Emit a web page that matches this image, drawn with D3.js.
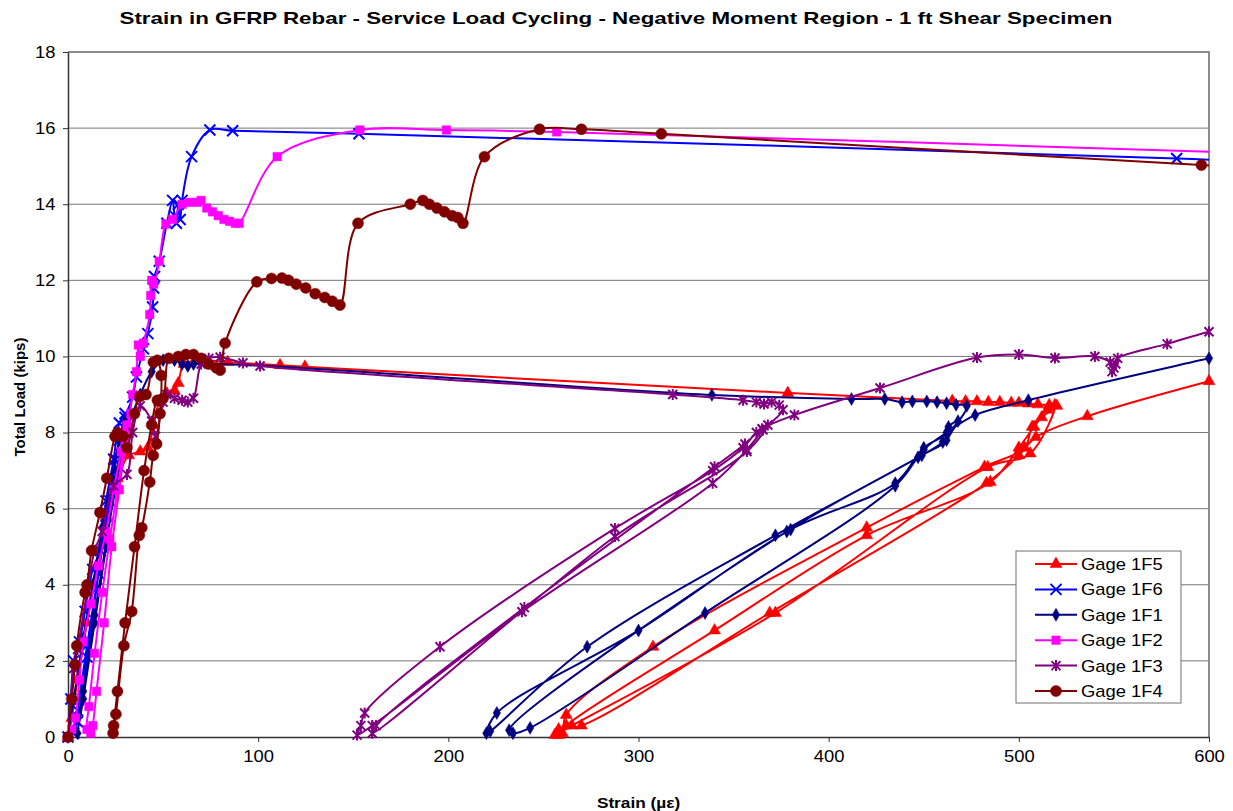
<!DOCTYPE html>
<html>
<head>
<meta charset="utf-8">
<script src="https://cdn.jsdelivr.net/npm/d3@7"></script>
<style>
  body { margin: 0; background: #fff; }
  text { font-family: Arial, 'Liberation Sans', sans-serif; fill: #000; }
</style>
</head>
<body>
<div id="chart"></div>
<script>
// [strain (microstrain), total load (kips)] in the order they were recorded
var gage1F5 = [
  [0, 0], [2, 0.5], [5, 1.5], [10, 3.0], [15, 4.5], [20, 5.8], [26, 6.8], [32, 7.4], [38, 7.5], [42, 7.6],
  [45, 8.2], [48, 8.8], [52, 9.03], [56, 9.1], [58, 9.3], [61, 9.8], [70, 9.9], [84, 9.85], [111.5, 9.77],
  [124.6, 9.73], [378.5, 9.04], [465, 8.83], [472, 8.82], [478, 8.82], [484, 8.8], [490, 8.8], [496, 8.78],
  [500, 8.78], [505, 8.76], [510, 8.74], [516, 8.72], [520, 8.7],
  [512, 8.4], [508, 8.15], [500, 7.6], [485, 6.7], [420, 5.3], [340, 2.8], [262, 0.3], [258, 0.05],
  [260, 0.1], [262, 0.58], [307.6, 2.37], [420, 5.5], [482, 7.1], [503, 7.6], [507, 8.15], [515, 8.6], [519, 8.72],
  [506, 7.45], [483.7, 7.09], [372, 3.26], [265, 0.3], [256, 0.05],
  [258, 0.2], [270, 0.3], [369, 3.26], [483, 6.67], [500, 7.4], [509, 7.88], [536, 8.43], [600, 9.35], [640, 9.85]
]

var gage1F6 = [
  [0, 0], [1.5, 1.0], [3, 2.0], [6, 2.5], [9, 3.3], [13, 4.4], [17, 4.9], [20, 6.2], [24, 7.3], [27, 8.25],
  [30, 8.5], [27, 7.8], [22, 6.2], [16, 4.3], [10, 2.4], [5, 0.7], [3, 0.1], [5, 0.4], [10, 2.1], [15, 3.9],
  [20, 5.8], [25, 7.3], [30, 8.4], [34, 8.93], [36, 9.46], [39.7, 10.2], [42, 10.6], [44.5, 11.3], [45, 11.8],
  [45.5, 12.1], [48, 12.5], [52, 13.5], [55, 14.1], [56, 13.7], [57, 13.5], [58, 14.0], [59, 13.6], [60, 14.1],
  [65, 15.25], [74.6, 15.95], [86.6, 15.93], [153, 15.85], [583, 15.2], [650, 15.05]
]

var gage1F1 = [
  [0, 0], [3, 1.0], [8, 2.6], [13, 4.0], [18, 5.5], [23, 6.8], [27, 7.8], [30, 8.3], [26, 7.0], [20, 5.0],
  [14, 3.0], [8, 1.0], [5, 0.1], [8, 1.2], [14, 3.2], [20, 5.1], [26, 6.8], [32, 8.2], [38, 9.0], [44, 9.6],
  [50, 9.9], [56, 9.9], [60, 9.8], [63, 9.75], [66, 9.8], [338.6, 8.99], [412, 8.88], [429.5, 8.88],
  [438.6, 8.8], [444, 8.82], [451.6, 8.82], [457, 8.8], [462, 8.77], [467, 8.73], [472.6, 8.7],
  [463, 8.0], [450, 7.6], [435, 6.67], [380, 5.45], [300, 2.8], [225.5, 0.63], [220, 0.1],
  [222, 0.15], [273, 2.37], [372, 5.3], [449, 7.4], [462, 7.8], [463, 8.15], [468, 8.3],
  [460, 7.75], [447, 7.35], [378, 5.4], [232, 0.18],
  [234, 0.1], [243, 0.24], [335, 3.26], [435, 6.6], [450, 7.55], [462, 8.0], [477, 8.46], [505, 8.85],
  [600, 9.95], [640, 10.4]
]

var gage1F2 = [
  [0, 0], [2, 0.2], [4, 0.5], [6, 1.5], [8, 2.5], [12, 3.5], [16, 4.5], [20, 5.4], [24, 6.5], [28, 7.5],
  [31, 8.2], [33, 8.5], [30, 7.8], [26, 6.5], [22, 5.2], [18, 3.8], [14, 2.2], [11, 0.8], [10, 0.2], [12, 0.1],
  [13, 0.3], [15, 1.2], [19, 3.0], [23, 5.0], [27, 6.5], [31, 8.0], [34, 9.0], [36, 9.6], [37, 10.3], [38, 10.0],
  [39.7, 10.35], [43, 11.1], [43.5, 11.6], [44, 12.0], [45, 11.9], [48, 12.5], [51.5, 13.48], [55, 13.6],
  [60, 14.0], [64, 14.05], [68, 14.05], [70, 14.1], [73, 13.9], [76, 13.8], [79, 13.7], [82, 13.6],
  [85, 13.55], [88, 13.5], [90, 13.5], [110, 15.25], [153.5, 15.95], [199, 15.95], [257, 15.9], [650, 15.3]
]

var gage1F3 = [
  [0, 0], [3, 1.8], [5, 2.3], [10, 3.8], [14, 4.9], [18, 5.4], [24, 6.6], [31, 6.9], [34, 8.0], [38, 8.7],
  [44, 8.3], [46, 7.9], [50, 8.8], [52, 9.0], [56, 8.9], [60, 8.85], [63, 8.8], [66, 8.9], [70, 9.8],
  [74, 9.95], [80, 9.98], [92, 9.83], [101, 9.75], [318, 9.0], [355, 8.85], [362, 8.8], [366, 8.75],
  [370, 8.8], [374, 8.72], [376, 8.6],
  [365.5, 8.07], [357, 7.55], [339, 6.67], [238.7, 3.29], [160, 0.3], [152, 0.05],
  [154, 0.3], [156, 0.63], [195.6, 2.37], [287.6, 5.48], [339, 7.0], [355, 7.6], [362, 8.0], [368, 8.2],
  [357, 7.5], [287.6, 5.27], [160, 0.1],
  [162, 0.3], [240, 3.4], [340, 7.1], [356, 7.7], [365, 8.1], [382, 8.46], [427, 9.17], [478, 9.97],
  [500, 10.05], [519, 9.96], [540, 10.0], [548, 9.85], [550, 9.7], [549, 9.6], [551, 9.8], [552, 9.95],
  [578, 10.33], [600, 10.65], [640, 11.1]
]

var gage1F4 = [
  [0, 0], [2, 1.0], [3.7, 1.9], [4.6, 2.4], [9, 3.8], [10, 4.0], [12.4, 4.9], [16.8, 5.9], [20.4, 6.8],
  [24.7, 7.9], [26, 8.0], [29, 7.9], [31, 7.6], [35, 8.5], [37.8, 8.95], [41, 9.0], [44.9, 9.85], [47, 9.9],
  [49, 9.5], [48.4, 8.5], [46.6, 7.7], [44.8, 7.4], [43, 6.7], [38.8, 5.5], [37.5, 5.3], [33.5, 3.3],
  [29.4, 2.4], [25.2, 0.6], [23.7, 0.1], [24, 0.3], [26, 1.2], [30, 3.0], [35, 5.0], [40, 7.0], [44, 8.2],
  [47, 8.85], [50, 8.9], [53, 9.95], [58, 10.0], [62, 10.05], [66, 10.05], [70, 9.95], [74, 9.8], [78, 9.7],
  [80, 9.64], [82.6, 10.35], [99.3, 11.96], [107, 12.05], [112.5, 12.06], [116, 12.0], [120, 11.9],
  [125, 11.8], [130, 11.65], [135, 11.55], [139, 11.45], [143, 11.35], [152.5, 13.5], [180, 14.0],
  [186.6, 14.1], [190, 14.0], [194, 13.9], [198, 13.8], [202, 13.7], [205, 13.65], [207.7, 13.5],
  [219, 15.25], [248, 15.97], [270, 15.97], [312, 15.85], [596, 15.03], [650, 14.9]
]

var seriesNames = ['Gage 1F5', 'Gage 1F6', 'Gage 1F1', 'Gage 1F2', 'Gage 1F3', 'Gage 1F4']
var seriesColors = ['#ff0000', '#0000ff', '#000080', '#ff00ff', '#800080', '#800000']
var seriesMarkers = ['triangle', 'cross', 'diamond', 'square', 'star', 'circle']
var seriesValues = [gage1F5, gage1F6, gage1F1, gage1F2, gage1F3, gage1F4]

var xTicks = [0, 100, 200, 300, 400, 500, 600]
var yTicks = [0, 2, 4, 6, 8, 10, 12, 14, 16, 18]

var chartTitle = 'Strain in GFRP Rebar - Service Load Cycling - Negative Moment Region - 1 ft Shear Specimen'

var series = seriesNames.map((name, i) => ({
  name: name,
  color: seriesColors[i],
  marker: seriesMarkers[i],
  values: seriesValues[i]
}))

var margin = { top: 52, left: 68, right: 24, bottom: 74 }
var width = 1233 - margin.left - margin.right
var height = 811 - margin.top - margin.bottom
var stretch = 1.15

var svg = d3
  .select('#chart')
  .append('svg')
  .attr('width', 1233)
  .attr('height', 811)

var plot = svg
  .append('g')
  .attr('transform', `translate(${margin.left},${margin.top})`)

let xPositionScale = d3
  .scaleLinear()
  .domain([0, 600])
  .range([0, width])

let yPositionScale = d3
  .scaleLinear()
  .domain([0, 18])
  .range([height, 0])

plot
  .append('clipPath')
  .attr('id', 'plot-clip')
  .append('rect')
  .attr('width', width)
  .attr('height', height)

/* Gridlines */
plot
  .selectAll('.grid')
  .data(yTicks.filter(d => d > 0 && d < 18))
  .enter()
  .append('line')
  .attr('class', 'grid')
  .attr('x1', 0)
  .attr('x2', width)
  .attr('y1', d => yPositionScale(d))
  .attr('y2', d => yPositionScale(d))
  .attr('stroke', '#767676')
  .attr('stroke-width', 1)

// plot area frame (top and right are grey in Excel)
plot
  .append('path')
  .attr('d', `M0,0H${width}V${height}`)
  .attr('fill', 'none')
  .attr('stroke', '#8c8c8c')
  .attr('stroke-width', 2)

/* Axes */
var xAxis = d3
  .axisBottom(xPositionScale)
  .tickValues(xTicks)
  .tickSize(5)
  .tickSizeOuter(0)
  .tickPadding(9)

plot
  .append('g')
  .attr('class', 'axis x-axis')
  .attr('transform', `translate(0,${height})`)
  .call(xAxis)

var yAxis = d3
  .axisLeft(yPositionScale)
  .tickValues(yTicks)
  .tickSize(5)
  .tickSizeOuter(0)
  .tickPadding(6)

plot
  .append('g')
  .attr('class', 'axis y-axis')
  .call(yAxis)

plot.selectAll('.axis path').attr('stroke', '#333').attr('stroke-width', 1.5)
plot.selectAll('.axis line').attr('stroke', '#333')
plot
  .selectAll('.axis text')
  .attr('font-size', 16)
  .attr('font-family', 'Arial, Liberation Sans, sans-serif')
  .attr('fill', '#000')
  .attr('transform', `scale(${stretch},1)`)

/* Series lines and markers */
var line = d3
  .line()
  .x(d => xPositionScale(d[0]))
  .y(d => yPositionScale(d[1]))
  .curve(d3.curveCatmullRom.alpha(0.5))

function markerPath(type) {
  if (type === 'triangle') return d3.symbol(d3.symbolTriangle, 62)()
  if (type === 'diamond') return d3.symbol(d3.symbolDiamond, 48)()
  if (type === 'square') return d3.symbol(d3.symbolSquare, 72)()
  if (type === 'circle') return d3.symbol(d3.symbolCircle, 95)()
  if (type === 'cross') return 'M-5.5,-5.5L5.5,5.5M-5.5,5.5L5.5,-5.5'
  return 'M-4.5,-4.5L4.5,4.5M-4.5,4.5L4.5,-4.5M0,-5.5V5.5'
}

var seriesGroups = plot
  .selectAll('.series')
  .data(series)
  .enter()
  .append('g')
  .attr('class', 'series')

seriesGroups
  .append('path')
  .attr('clip-path', 'url(#plot-clip)')
  .attr('d', d => line(d.values))
  .attr('fill', 'none')
  .attr('stroke', d => d.color)
  .attr('stroke-width', 2)

seriesGroups.each(function(s) {
  var lined = s.marker === 'cross' || s.marker === 'star'
  d3.select(this)
    .selectAll('.marker')
    .data(s.values.filter(d => d[0] <= 600))
    .enter()
    .append('path')
    .attr('class', 'marker')
    .attr('transform', d => `translate(${xPositionScale(d[0])},${yPositionScale(d[1])})`)
    .attr('d', markerPath(s.marker))
    .attr('fill', lined ? 'none' : s.color)
    .attr('stroke', s.color)
    .attr('stroke-width', lined ? 2 : 0.5)
})

/* Titles */
svg
  .append('text')
  .attr('x', 616)
  .attr('y', 24)
  .attr('text-anchor', 'middle')
  .attr('font-size', 17)
  .attr('font-weight', 'bold')
  .attr('textLength', 993)
  .attr('lengthAdjust', 'spacingAndGlyphs')
  .text(chartTitle)

svg
  .append('text')
  .attr('transform', `translate(${margin.left + width / 2},808) scale(${stretch},1)`)
  .attr('text-anchor', 'middle')
  .attr('font-size', 15)
  .attr('font-weight', 'bold')
  .text('Strain (µε)')

svg
  .append('text')
  .attr('transform', `translate(25,397) rotate(-90)`)
  .attr('text-anchor', 'middle')
  .attr('font-size', 15)
  .attr('font-weight', 'bold')
  .text('Total Load (kips)')

/* Legend */
var legend = svg.append('g').attr('transform', 'translate(1016,551)')

legend
  .append('rect')
  .attr('width', 165)
  .attr('height', 152)
  .attr('fill', '#fff')
  .attr('stroke', '#707070')
  .attr('stroke-width', 1)

var legendItems = legend
  .selectAll('.legend-item')
  .data(series)
  .enter()
  .append('g')
  .attr('class', 'legend-item')
  .attr('transform', (d, i) => `translate(0,${13 + i * 25.4})`)

legendItems
  .append('line')
  .attr('x1', 19)
  .attr('x2', 61)
  .attr('stroke', d => d.color)
  .attr('stroke-width', 2)

legendItems
  .append('path')
  .attr('transform', 'translate(40,0)')
  .attr('d', d => markerPath(d.marker))
  .attr('fill', d => (d.marker === 'cross' || d.marker === 'star' ? 'none' : d.color))
  .attr('stroke', d => d.color)
  .attr('stroke-width', d => (d.marker === 'cross' || d.marker === 'star' ? 2 : 0.5))

legendItems
  .append('text')
  .attr('transform', `translate(65,6) scale(${stretch},1)`)
  .attr('font-size', 16)
  .text(d => d.name)
</script>
</body>
</html>
